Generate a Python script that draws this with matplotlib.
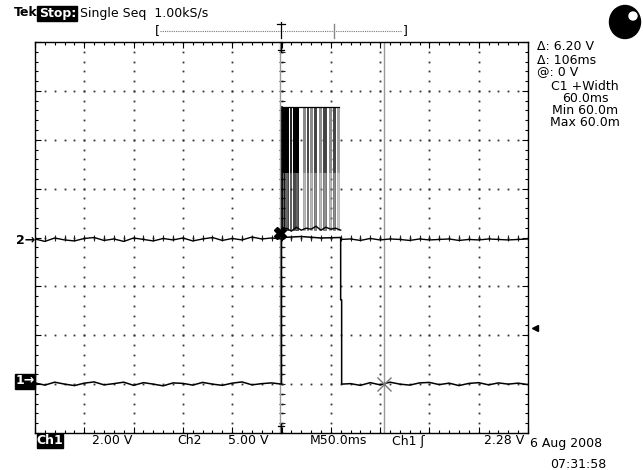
import numpy as np
import matplotlib
matplotlib.use("Agg")
import matplotlib.pyplot as plt
from matplotlib.patches import Ellipse, Rectangle

# ---------------- scope settings (from the screen) ----------------
ch1_volts_per_div = 2.0
ch2_volts_per_div = 5.0
time_per_div_ms = 50.0
ch1_ground_div = -3.0
ch2_ground_div = -0.05
trig_level_v = 2.28
cursor_times_ms = [-2.0, 104.0]
cursor_levels_v = [6.2, 0.0]

# ---------------- Ch1 trace (volts) ----------------
ch1_pre_ms = list(range(-250, 0, 10))
ch1_pre_v = [0.05, -0.04, 0.08, 0.00, -0.06, 0.04, 0.09, -0.03, 0.02, 0.08,
             -0.05, 0.06, 0.00, -0.07, 0.05, 0.03, -0.04, 0.07, 0.00, -0.05,
             0.04, 0.09, -0.03, 0.02, 0.05]
ch1_edge_ms = [0, 0, 20, 40, 60, 60, 61, 61]
ch1_edge_v = [0.00, 6.00, 6.04, 5.98, 6.00, 3.45, 3.45, 0.00]
ch1_post_ms = list(range(70, 251, 10))
ch1_post_v = [0.02, -0.05, 0.06, -0.03, 0.08, 0.00, -0.04, 0.05, 0.07, -0.02,
              0.04, -0.06, 0.03, 0.06, -0.03, 0.05, 0.00, 0.04, -0.02]

# ---------------- Ch2 trace (volts) ----------------
ch2_pre_ms = list(range(-250, 0, 10))
ch2_pre_v = [0.10, -0.15, 0.20, 0.00, -0.10, 0.15, 0.25, -0.05, 0.10, -0.15,
             0.20, 0.05, -0.10, 0.15, 0.00, 0.20, -0.10, 0.10, 0.25, -0.05,
             0.15, 0.00, 0.30, 0.10, 0.20]
ch2_burst_low_ms = [0, 5, 10, 15, 20, 25, 30, 35, 40, 45, 50, 55, 60]
ch2_burst_low_v = [1.0, 1.2, 0.9, 1.3, 1.0, 1.2, 1.1, 1.4, 1.0, 1.3, 1.1, 1.2, 1.0]
ch2_burst_high_v = 13.6
ch2_pulse_start_ms = [0.5, 2.5, 8.3, 11.4, 13.4, 21.5, 25.6, 28.6, 32.8, 37.8,
                      41.8, 47.8, 51.8, 55.8]
ch2_pulse_width_ms = [1.6, 3.6, 1.6, 1.6, 3.6, 2.6, 1.6, 2.6, 2.6, 2.6,
                      3.2, 2.6, 2.6, 2.6]
ch2_post_ms = list(range(60, 251, 10))
ch2_post_v = [0.05, 0.10, -0.05, 0.15, 0.00, 0.10, 0.05, -0.05, 0.10, 0.00,
              0.05, 0.10, -0.05, 0.05, 0.00, 0.10, 0.05, 0.00, 0.05, 0.10]

pulse_shades = ["#000000", "#000000", "#222222", "#000000", "#000000", "#8a8a8a",
                "#444444", "#8a8a8a", "#444444", "#8a8a8a", "#444444", "#8a8a8a",
                "#444444", "#a0a0a0"]


def c1(v):
    return ch1_ground_div + np.asarray(v, float) / ch1_volts_per_div


def c2(v):
    return ch2_ground_div + np.asarray(v, float) / ch2_volts_per_div


W, H = 643, 470
fig = plt.figure(figsize=(W / 100, H / 100), dpi=100)
fig.patch.set_facecolor("white")

L, R, T, B = 35, 528, 42, 433
ax = fig.add_axes([L / W, 1 - B / H, (R - L) / W, (B - T) / H])
xmin, xmax = -5 * time_per_div_ms, 5 * time_per_div_ms
ax.set_xlim(xmin, xmax)
ax.set_ylim(-4, 4)
for s in ax.spines.values():
    s.set_linewidth(1.0)
    s.set_color("black")
ax.set_xticks(np.arange(xmin, xmax + 1, time_per_div_ms))
ax.set_xticks(np.arange(xmin, xmax + 1, time_per_div_ms / 5), minor=True)
ax.set_yticks(np.arange(-4, 5, 1))
ax.set_yticks(np.arange(-4, 4.01, 0.2), minor=True)
ax.tick_params(which="both", direction="in", top=True, right=True,
               labelbottom=False, labelleft=False, color="black", width=0.8)
ax.tick_params(which="major", length=4)
ax.tick_params(which="minor", length=2.2)

# graticule dots
dot_x = np.arange(xmin, xmax + 0.1, time_per_div_ms / 5)
dot_y = np.arange(-4, 4.01, 0.2)
for gy in range(-3, 4):
    ax.plot(dot_x, np.full_like(dot_x, gy), ls="none", marker="s", ms=1.3,
            mew=0, color="#333333", zorder=1)
for gx in np.arange(xmin + time_per_div_ms, xmax, time_per_div_ms):
    ax.plot(np.full_like(dot_y, gx), dot_y, ls="none", marker="s", ms=1.3,
            mew=0, color="#333333", zorder=1)
# centre crosshair ticks
ax.plot(dot_x, np.zeros_like(dot_x), ls="none", marker="|", ms=4, mew=0.8,
        color="#222222", zorder=1)
ax.plot(np.zeros_like(dot_y), dot_y, ls="none", marker="_", ms=4, mew=0.8,
        color="#222222", zorder=1)

# cursors
for ct in cursor_times_ms:
    ax.axvline(ct, color="#9a9a9a", lw=1.0, zorder=2)

# Ch2 trace
ax.plot(ch2_pre_ms + [0], c2(ch2_pre_v + [0.1]), color="black", lw=1.0, zorder=3)
ax.plot(ch2_burst_low_ms, c2(ch2_burst_low_v), color="black", lw=1.0, zorder=4)
top = c2(ch2_burst_high_v)
mid = c2(7.0)
lowv = c2(ch2_burst_low_v[0])
for st, wd, sh in zip(ch2_pulse_start_ms, ch2_pulse_width_ms, pulse_shades):
    ax.bar(st, top - mid, bottom=mid, width=wd, align="edge", color=sh,
           edgecolor=sh, linewidth=0.7, zorder=3)
    ax.bar(st, mid - lowv, bottom=lowv, width=wd, align="edge", color=sh,
           edgecolor=sh, alpha=0.6, linewidth=0.7, zorder=3)
ax.plot([ch2_pulse_start_ms[0], ch2_pulse_start_ms[-1] + ch2_pulse_width_ms[-1]],
        [top, top], color="black", lw=0.9, zorder=4)
ax.plot([0, 0], [c2(0), top], color="black", lw=1.2, zorder=4)
ax.plot(ch2_post_ms, c2(ch2_post_v), color="black", lw=1.0, zorder=3)

# Ch1 trace
ax.plot(ch1_pre_ms + ch1_edge_ms + ch1_post_ms,
        c1(ch1_pre_v + ch1_edge_v + ch1_post_v), color="black", lw=1.1, zorder=5)

# cursor markers
ax.plot(cursor_times_ms[0], c1(cursor_levels_v[0]), marker="X", ms=9,
        color="black", zorder=6)
ax.plot(cursor_times_ms[1], c1(cursor_levels_v[1]), marker="x", ms=10, mew=1.0,
        color="#777777", zorder=6)

# trigger level arrow on right
ax.plot(xmax + 7, c1(trig_level_v), marker="<", ms=5, color="black",
        clip_on=False, zorder=6)

# ---------------- overlay for screen text ----------------
ov = fig.add_axes([0, 0, 1, 1], zorder=10)
ov.set_xlim(0, W)
ov.set_ylim(H, 0)
ov.axis("off")
ov.patch.set_alpha(0)

fs = 9
ov.text(14, 13, "Tek", fontsize=fs, fontweight="bold", va="center", ha="left")
ov.add_patch(Rectangle((37, 6), 40, 15, color="black"))
ov.text(39, 13, "Stop:", fontsize=fs, fontweight="bold", color="white",
        va="center", ha="left")
ov.text(80, 13, "Single Seq  1.00kS/s", fontsize=fs, va="center", ha="left")

# record bar
ov.text(157, 31, "[", fontsize=fs, va="center", ha="center")
ov.text(405, 31, "]", fontsize=fs, va="center", ha="center")
ov.plot([160, 402], [31, 31], color="#777777", lw=0.8, ls=(0, (1, 1)))
ov.plot([334, 334], [24, 38], color="#888888", lw=1.0)
ov.plot([281, 281], [22, 38], color="black", lw=0.9)
ov.plot([277, 285], [24, 24], color="black", lw=0.9)
# trigger position markers on graticule
ov.plot([281, 281], [42, 52], color="black", lw=1.0)
ov.plot([278, 284], [50, 50], color="black", lw=0.9)
ov.plot([281, 281], [424, 433], color="black", lw=1.0)
ov.plot([278, 284], [426, 426], color="black", lw=0.9)

# ball indicator
ov.add_patch(Ellipse((625, 22), 31, 33, color="black"))
ov.add_patch(Ellipse((633, 16), 8, 8, color="white"))

# right readouts
ov.text(537, 47, "\u0394: 6.20 V", fontsize=fs, va="center", ha="left")
ov.text(537, 60, "\u0394: 106ms", fontsize=fs, va="center", ha="left")
ov.text(537, 72, "@: 0 V", fontsize=fs, va="center", ha="left")
ov.text(585, 86, "C1 +Width", fontsize=fs, va="center", ha="center")
ov.text(585, 98, "60.0ms", fontsize=fs, va="center", ha="center")
ov.text(585, 111, "Min 60.0m", fontsize=fs, va="center", ha="center")
ov.text(585, 123, "Max 60.0m", fontsize=fs, va="center", ha="center")

# channel markers on left
ov.text(35, 240, "2\u2192", fontsize=fs, va="center", ha="right", fontweight="bold")
ov.add_patch(Rectangle((15, 374), 20, 15, color="black"))
ov.text(25, 381, "1\u2192", fontsize=fs, va="center", ha="center",
        color="white", fontweight="bold")

# bottom readout
ov.add_patch(Rectangle((37, 434), 26, 14, color="black"))
ov.text(50, 441, "Ch1", fontsize=fs, va="center", ha="center", color="white",
        fontweight="bold")
ov.text(92, 441, "2.00 V", fontsize=fs, va="center", ha="left")
ov.text(177, 441, "Ch2", fontsize=fs, va="center", ha="left")
ov.text(228, 441, "5.00 V", fontsize=fs, va="center", ha="left")
ov.text(310, 441, "M50.0ms", fontsize=fs, va="center", ha="left")
ov.text(392, 441, "Ch1 \u0283", fontsize=fs, va="center", ha="left")
ov.text(524, 441, "2.28 V", fontsize=fs, va="center", ha="right")
ov.text(530, 444, "6 Aug 2008", fontsize=fs, va="center", ha="left")
ov.text(550, 465, "07:31:58", fontsize=fs, va="center", ha="left")

fig.savefig("out.png", dpi=100)
